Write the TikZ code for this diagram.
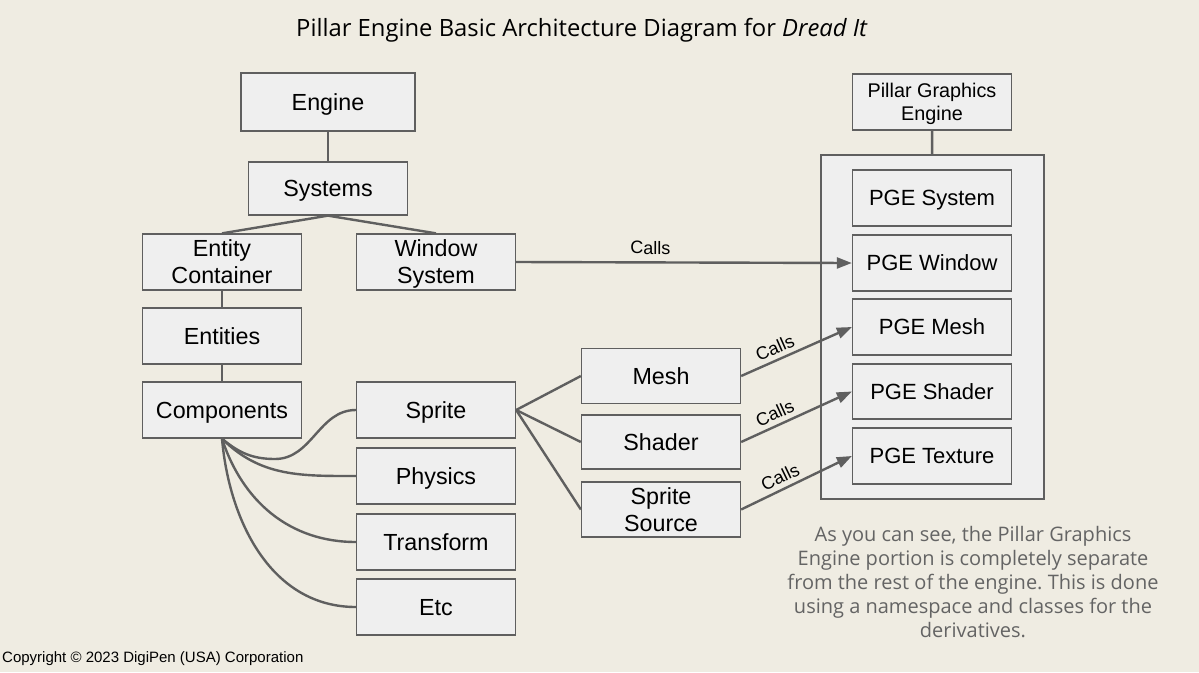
\documentclass[tikz,border=0pt]{standalone}
\usepackage{fontspec}
\setmainfont{Liberation Sans}
\newfontfamily\notefont{Open Sans}
\usetikzlibrary{arrows.meta}
\definecolor{paper}{RGB}{239,236,226}
\definecolor{boxfill}{RGB}{239,239,239}
\definecolor{edge}{RGB}{95,95,95}
\definecolor{notegray}{RGB}{100,100,100}
\newcommand{\bw}{159pt}
\newcommand{\bh}{56pt}

\begin{document}
\frenchspacing
\begin{tikzpicture}[x=1pt, y=-1pt,
    box/.style={draw=edge, fill=boxfill, line width=1.3pt, rectangle, minimum width=\bw, minimum height=\bh, inner sep=0pt, text depth=0pt, align=center, font=\fontsize{23.3}{27}\selectfont},
    pgebox/.style={box, font=\fontsize{22}{26}\selectfont},
    link/.style={draw=edge, line width=2.4pt},
    calls/.style={link, -{Triangle[length=15pt, width=11pt]}},
    callslbl/.style={font=\fontsize{18}{21}\selectfont, sloped, above, inner sep=4.5pt}]
    \fill[paper] (0,0) rectangle (1199,672);
    \useasboundingbox (0,0) rectangle (1199,672);

    % Title and footer
    \node[font=\notefont\fontsize{23.8}{28}\selectfont] (title) at (582,30) {Pillar Engine Basic Architecture Diagram for \textit{Dread It}};
    \node[anchor=west, font=\fontsize{15}{18}\selectfont, inner sep=0pt] (copy) at (2,659) {Copyright \textcopyright{} 2023 DigiPen (USA) Corporation};

    % Engine side
    \node[box, minimum width=174pt, minimum height=58pt] (engine) at (328,102) {Engine};
    \node[box, minimum height=53pt] (systems) at (328,188.5) {Systems};
    \node[box] (entcont) at (222,262) {Entity\\Container};
    \node[box] (winsys) at (436,262) {Window\\System};
    \node[box] (entities) at (222,336) {Entities};
    \node[box] (comps) at (222,410) {Components};

    % Components
    \node[box] (sprite) at (436,410) {Sprite};
    \node[box] (physics) at (436,476) {Physics};
    \node[box] (transform) at (436,542) {Transform};
    \node[box] (etc) at (436,607) {Etc};

    % Sprite parts
    \node[box, minimum height=55pt] (mesh) at (661,376) {Mesh};
    \node[box, minimum height=54pt] (shader) at (661,442) {Shader};
    \node[box, minimum height=55pt] (spsrc) at (661,509.5) {Sprite\\Source};

    % Pillar Graphics Engine
    \node[box, font=\fontsize{19.8}{23}\selectfont] (pge) at (932,102) {Pillar Graphics\\Engine};
    \node[box, minimum width=223pt, minimum height=344pt] (pgeframe) at (932.5,327) {};
    \node[pgebox] (pgesys) at (932,198) {PGE System};
    \node[pgebox] (pgewin) at (932,263) {PGE Window};
    \node[pgebox] (pgemesh) at (932,327) {PGE Mesh};
    \node[pgebox, minimum height=55pt] (pgeshader) at (932,391.5) {PGE Shader};
    \node[pgebox] (pgetex) at (932,456) {PGE Texture};

    % Note
    \node[font=\notefont\fontsize{20}{24}\selectfont, text=notegray, align=center] (note) at (973,582) {As you can see, the Pillar Graphics\\Engine portion is completely separate\\from the rest of the engine. This is done\\using a namespace and classes for the\\derivatives.};

    % Tree lines
    \draw[link] (engine) -- (systems);
    \draw[link] (systems.south) -- (entcont.north);
    \draw[link] (systems.south) -- (winsys.north);
    \draw[link] (entcont) -- (entities);
    \draw[link] (entities) -- (comps);
    \draw[link] (pge) -- (pgeframe);

    % Curves to components
    \draw[link] (comps.south) to[out=-40, in=180] (275,459) to[out=0, in=180] (sprite.west);
    \draw[link] (comps.south) to[out=-45, in=180] (physics.west);
    \draw[link] (comps.south) to[out=-72, in=180] (transform.west);
    \draw[link] (comps.south) to[out=-85, in=180] (etc.west);

    \draw[link] (sprite.east) -- (mesh.west);
    \draw[link] (sprite.east) -- (shader.west);
    \draw[link] (sprite.east) -- (spsrc.west);

    % Calls
    \draw[calls] (winsys.east) -- node[callslbl, pos=0.4, inner sep=7pt] {Calls} (pgewin.west);
    \draw[calls] (mesh.east) -- node[callslbl, pos=0.35] {Calls} (pgemesh.west);
    \draw[calls] (shader.east) -- node[callslbl, pos=0.35] {Calls} (pgeshader.west);
    \draw[calls] (spsrc.east) -- node[callslbl, pos=0.4] {Calls} (pgetex.west);
\end{tikzpicture}
\end{document}
